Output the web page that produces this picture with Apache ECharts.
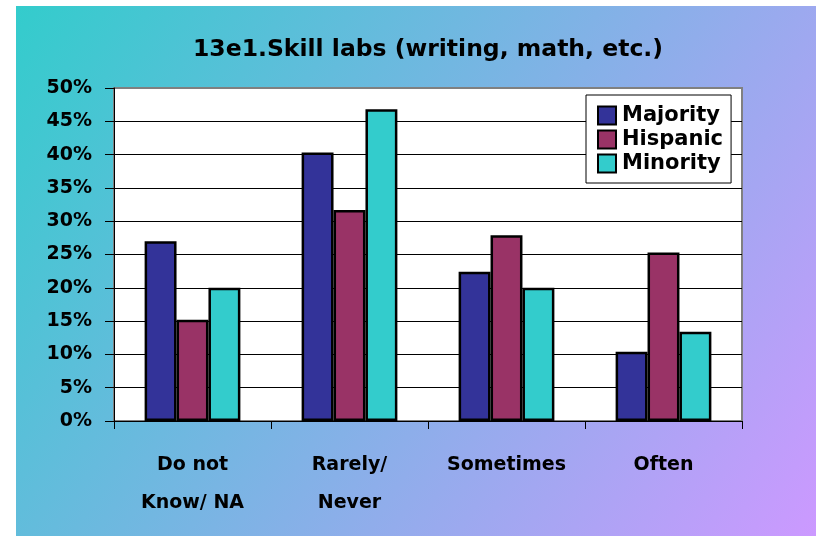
<!DOCTYPE html>
<html>
<head>
<meta charset="utf-8">
<script src="https://cdn.jsdelivr.net/npm/echarts@6/dist/echarts.min.js"></script>
<style>
  html, body { margin: 0; padding: 0; background: #fff; }
  #chart { width: 816px; height: 536px; }
</style>
</head>
<body>
<div id="chart"></div>
<script>
const categories = ['Do not\nKnow/ NA', 'Rarely/\nNever', 'Sometimes', 'Often']
const majority = [27.0, 40.3, 22.4, 10.4]
const hispanic = [15.2, 31.7, 27.9, 25.3]
const minority = [20.0, 46.8, 20.0, 13.4]
const seriesNames = ['Majority', 'Hispanic', 'Minority']
const seriesColors = ['#333399', '#993366', '#33CCCC']

const font = 'DejaVu Sans'
const chart = echarts.init(document.getElementById('chart'))

function bar(name, data, color) {
  return {
    name,
    type: 'bar',
    data,
    barGap: 0,
    barCategoryGap: '39%',
    itemStyle: { color, borderColor: '#000', borderWidth: 2.5 }
  }
}

chart.setOption({
  backgroundColor: '#fff',
  animation: false,
  graphic: [
    {
      type: 'rect',
      z: -100,
      left: 16,
      top: 6,
      shape: { width: 800, height: 530 },
      style: {
        fill: new echarts.graphic.LinearGradient(0, 0, 1, 1, [
          { offset: 0, color: '#33CCCC' },
          { offset: 1, color: '#CC99FF' }
        ])
      }
    }
  ],
  title: {
    text: '13e1.Skill labs (writing, math, etc.)',
    left: 423,
    top: 33,
    textAlign: 'center',
    textStyle: { fontFamily: font, fontSize: 23.5, fontWeight: 'bold', color: '#000' }
  },
  legend: {
    orient: 'vertical',
    left: 586,
    top: 95,
    width: 143,
    padding: [10, 8, 9, 11],
    itemGap: 3,
    itemWidth: 18,
    itemHeight: 18,
    icon: 'rect',
    backgroundColor: '#fff',
    borderColor: '#000',
    borderWidth: 1,
    borderRadius: 0,
    data: seriesNames,
    textStyle: { fontFamily: font, fontSize: 21, fontWeight: 'bold', color: '#000', lineHeight: 20, padding: [0, 0, 0, 1] }
  },
  grid: {
    left: 114,
    right: 74,
    top: 88,
    bottom: 115,
    show: true,
    backgroundColor: '#fff',
    borderColor: '#808080',
    borderWidth: 2
  },
  xAxis: {
    type: 'category',
    data: categories,
    axisLine: { lineStyle: { color: '#000', width: 1 } },
    axisTick: { show: true, length: 8, lineStyle: { color: '#000' } },
    axisLabel: {
      margin: 25,
      fontFamily: font,
      fontSize: 19,
      fontWeight: 'bold',
      color: '#000',
      lineHeight: 38
    }
  },
  yAxis: {
    type: 'value',
    min: 0,
    max: 50,
    interval: 5,
    axisLine: { show: true, lineStyle: { color: '#000', width: 1 } },
    axisTick: { show: true, length: 9, lineStyle: { color: '#000' } },
    axisLabel: {
      formatter: '{value}%',
      margin: 22,
      fontFamily: font,
      fontSize: 19,
      fontWeight: 'bold',
      color: '#000'
    },
    splitLine: { show: true, showMaxLine: false, lineStyle: { color: '#000', width: 1 } }
  },
  series: [
    bar(seriesNames[0], majority, seriesColors[0]),
    bar(seriesNames[1], hispanic, seriesColors[1]),
    bar(seriesNames[2], minority, seriesColors[2])
  ]
})
</script>
</body>
</html>
